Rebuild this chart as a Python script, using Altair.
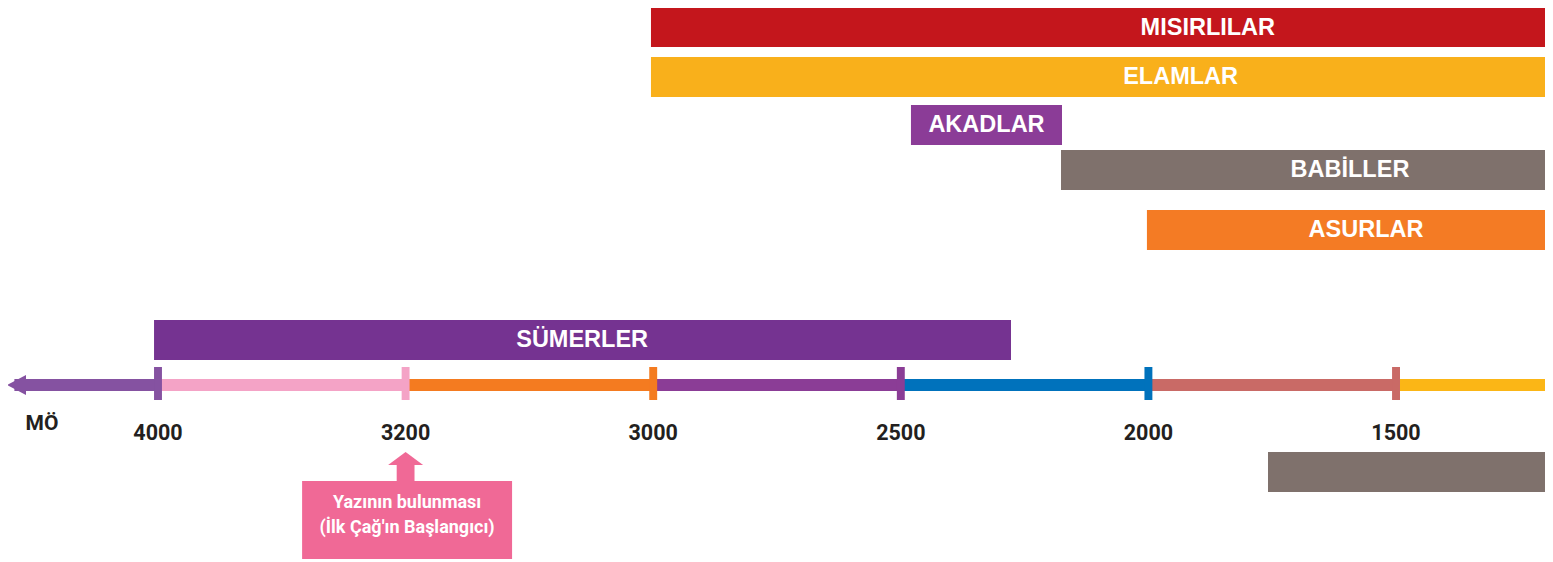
import altair as alt
import pandas as pd

# ---------------- data ----------------
# timeline ticks (evenly spaced positions on a non-linear time axis)
tick_pos = [0, 1, 2, 3, 4, 5]
tick_labels = ["4000", "3200", "3000", "2500", "2000", "1500"]
tick_colors = ["#8552a1", "#f4a3c6", "#f47b20", "#8b3d96", "#0072bc", "#c96a66"]

# coloured axis segments (start, end in tick units)
seg_start = [-0.58, 0, 1, 2, 3, 4, 5]
seg_end = [0, 1, 2, 3, 4, 5, 5.634]
seg_colors = ["#8552a1", "#f4a3c6", "#f47b20", "#8b3d96", "#0072bc", "#c96a66", "#fbb616"]

# civilisations
civ_names = ["MISIRLILAR", "ELAMLAR", "AKADLAR", "BABİLLER", "ASURLAR", "SÜMERLER", ""]
civ_start = [1.991, 1.991, 3.041, 3.647, 3.994, -0.016, 4.483]
civ_end = [5.634, 5.634, 3.651, 5.634, 5.634, 3.445, 5.634]
civ_label_pos = [4.24, 4.13, 3.346, 4.814, 4.879, 1.713, 5.0]
civ_colors = ["#c4161c", "#f9b01b", "#8b3c97", "#7f716c", "#f47b24", "#753391", "#7f716c"]

# callout
callout_lines = ["Yazının bulunması", "(İlk Çağ'ın Başlangıcı)"]
callout_at = 1  # 3200
callout_color = "#f06996"

# ---------------- layout (pixel rows, top-down) ----------------
civ_top = [0, 49, 97, 142, 202, 312, 444]
civ_bottom = [39, 89, 137, 182, 242, 352, 484]
axis_top, axis_bottom = 371, 383
tick_top, tick_bottom = 359, 392
tick_label_y = 426
mo_y = 416
box_top, box_bottom = 473, 551
box_left, box_right = 0.582, 1.430
shaft_top = 457
shaft_half = 0.036
head_y = 450.5
line_y = [494.5, 520]

W, H = 1537, 554
X = lambda f: alt.X(f, type="quantitative",
                    scale=alt.Scale(domain=[-0.6058, 5.6017], nice=False, zero=False),
                    axis=None)
Y = lambda f: alt.Y(f, type="quantitative",
                    scale=alt.Scale(domain=[0, H], nice=False, zero=False, reverse=True),
                    axis=None)

civ_df = pd.DataFrame({
    "name": civ_names, "start": civ_start, "end": civ_end,
    "lab": civ_label_pos, "color": civ_colors,
    "top": civ_top, "bottom": civ_bottom,
})
civ_df["mid"] = (civ_df["top"] + civ_df["bottom"]) / 2

seg_df = pd.DataFrame({"start": seg_start, "end": seg_end, "color": seg_colors,
                       "top": axis_top, "bottom": axis_bottom})
tick_df = pd.DataFrame({"pos": tick_pos, "label": tick_labels, "color": tick_colors})
tick_df["l"] = tick_df["pos"] - 0.016
tick_df["r"] = tick_df["pos"] + 0.016
tick_df["top"] = tick_top
tick_df["bottom"] = tick_bottom
tick_df["ly"] = tick_label_y

bars = alt.Chart(civ_df).mark_rect(clip=True).encode(
    x=X("start"), x2="end", y=Y("top"), y2="bottom",
    color=alt.Color("color:N", scale=None))
bar_text = alt.Chart(civ_df).mark_text(
    font="Liberation Sans, Arial, sans-serif", fontWeight="bold", fontSize=23.5,
    color="white", baseline="middle", align="center").encode(
    x=X("lab"), y=Y("mid"), text="name:N")

segs = alt.Chart(seg_df).mark_rect(clip=True).encode(
    x=X("start"), x2="end", y=Y("top"), y2="bottom",
    color=alt.Color("color:N", scale=None))
ticks = alt.Chart(tick_df).mark_rect().encode(
    x=X("l"), x2="r", y=Y("top"), y2="bottom",
    color=alt.Color("color:N", scale=None))
cond_font = "Roboto, Liberation Sans, sans-serif"
tick_text = alt.Chart(tick_df).mark_text(
    font=cond_font, fontWeight="bold", fontSize=21.5, color="#231f20",
    baseline="middle", align="center").encode(
    x=X("pos"), y=Y("ly"), text="label:N")

left_head = alt.Chart(pd.DataFrame({"u": [-0.5715], "y": [377]})).mark_point(
    shape="M-1,0L1,-1.05L1,1.05Z", size=361, filled=True, opacity=1,
    color=seg_colors[0]).encode(x=X("u"), y=Y("y"))
mo_text = alt.Chart(pd.DataFrame({"u": [-0.4685], "y": [mo_y], "t": ["MÖ"]})).mark_text(
    font=cond_font, fontWeight="bold", fontSize=21, color="#231f20",
    baseline="middle", align="center").encode(x=X("u"), y=Y("y"), text="t:N")

box = alt.Chart(pd.DataFrame({"l": [box_left], "r": [box_right],
                              "t": [box_top], "b": [box_bottom]})).mark_rect(
    color=callout_color).encode(x=X("l"), x2="r", y=Y("t"), y2="b")
shaft = alt.Chart(pd.DataFrame({"l": [callout_at - shaft_half], "r": [callout_at + shaft_half],
                                "t": [shaft_top], "b": [box_top]})).mark_rect(
    color=callout_color).encode(x=X("l"), x2="r", y=Y("t"), y2="b")
up_head = alt.Chart(pd.DataFrame({"u": [callout_at], "y": [head_y]})).mark_point(
    shape="M-1,0.371L1,0.371L0,-0.371Z", size=1225, filled=True, opacity=1,
    color=callout_color).encode(x=X("u"), y=Y("y"))
box_text = alt.Chart(pd.DataFrame({"u": [(box_left + box_right) / 2] * 2,
                                   "y": line_y, "t": callout_lines})).mark_text(
    font=cond_font, fontWeight="bold", fontSize=18, color="white",
    baseline="middle", align="center").encode(x=X("u"), y=Y("y"), text="t:N")

chart = alt.layer(
    bars, bar_text, segs, ticks, left_head, tick_text, mo_text,
    box, shaft, up_head, box_text
).properties(
    width=W, height=H, autosize=alt.AutoSizeParams(type="none"), padding=0
).configure_view(strokeWidth=0)

chart.save("out.html", embed_options={"renderer": "svg", "actions": False})
